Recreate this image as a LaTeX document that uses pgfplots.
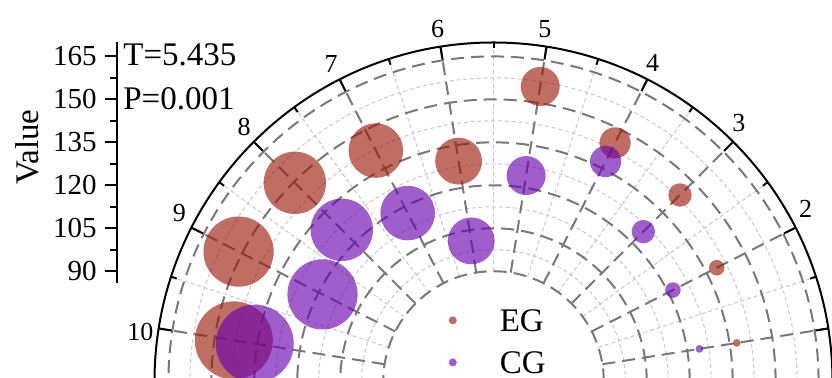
\documentclass[border=0pt]{standalone}
\usepackage{fontspec}
\setmainfont{Liberation Serif}
\usepackage{pgfplots}
\usepackage{pgfplotstable}
\pgfplotsset{compat=1.18}

\definecolor{egc}{RGB}{155,25,10}
\definecolor{cgc}{RGB}{105,0,176}
\definecolor{gridd}{RGB}{120,120,120}
\definecolor{gridl}{RGB}{200,200,200}

% k = category (drawn at angle 18k-9 degrees), v = value
\pgfplotstableread{
k v
1 137.5
2 139.0
3 143.6
4 145.0
5 155.8
6 129.4
7 142.0
8 149.6
9 151.4
10 143.3
}\egdata
\pgfplotstableread{
k v
1 124.3
2 121.8
3 125.5
4 137.7
5 124.3
6 101.2
7 117.5
8 126.4
9 118.5
10 135.9
}\cgdata

\newcommand\U{1.432}   % pt per value unit
\newcommand\VC{51.5}   % value at the pole

\begin{document}
\begin{tikzpicture}
% ---------- grid (under the bubbles) ----------
\begin{scope}[shift={(246.75pt,-1.75pt)}]
  \pgfmathsetmacro\rin{(90-\VC)*\U}
  \def\rout{169.5}
  \foreach \t in {0,18,...,180}
    \draw[gridl, line width=0.5pt, dash pattern=on 2pt off 1.4pt] (\t:\rin pt) -- (\t:\rout pt);
  \foreach \v in {97.5,112.5,127.5,142.5,157.5}{
    \pgfmathsetmacro\r{(\v-\VC)*\U}
    \draw[gridl, line width=0.5pt, dash pattern=on 2pt off 1.4pt] (\r pt,0) arc[start angle=0,end angle=180,radius=\r pt];
  }
  \foreach \t in {9,27,...,171}
    \draw[gridd, line width=1pt, dash pattern=on 6.5pt off 3.5pt] (\t:\rin pt) -- (\t:\rout pt);
  \foreach \v in {90,105,...,165}{
    \pgfmathsetmacro\r{(\v-\VC)*\U}
    \draw[gridd, line width=1pt, dash pattern=on 6.5pt off 3.5pt] (\r pt,0) arc[start angle=0,end angle=180,radius=\r pt];
  }
\end{scope}

% ---------- radial value axis (left) ----------
\begin{axis}[
  at={(58.5pt,47.5pt)}, anchor=south west,
  x=1pt, y=\U pt,
  xmin=0, xmax=1, ymin=85.89, ymax=170.04,
  axis x line=none, axis y line*=left,
  clip=false,
  ytick={90,105,...,165},
  minor y tick num=1,
  tick align=outside,
  major tick length=6pt, minor tick length=3.5pt,
  every tick/.append style={black, line width=1pt},
  y axis line style={black, line width=1pt},
  /pgf/number format/assume math mode=true,
  yticklabel style={font=\fontsize{14.5}{16}\selectfont, inner sep=0pt, xshift=-4pt},
  ylabel={Value},
  every axis y label/.style={at={(axis description cs:0,0.564)}, xshift=-45pt, rotate=90,
    anchor=center, inner sep=0pt, font=\fontsize{16.5}{18}\selectfont},
]
\end{axis}

% ---------- bubbles ----------
\begin{axis}[
  at={(60.59pt,-4.614pt)}, anchor=south west,
  x=\U pt, y=\U pt,
  xmin=-130, xmax=130, ymin=-2, ymax=130,
  hide axis, clip=false,
  legend cell align=left,
  legend image code/.code={\path[fill=none, draw=none] (-2pt,-2pt) rectangle (23.5pt,2pt); \fill[#1, draw opacity=0] (0pt,0pt) circle[radius=2pt];},
  legend style={draw=none, fill=none, inner sep=0pt, row sep=10pt,
    at={(axis cs:-15.89,25.31)}, anchor=north west,
    font=\fontsize{16.5}{18}\selectfont,
    nodes={inner sep=0pt, text height=11pt, text depth=0pt}},
]
\addplot[scatter, only marks, mark=*, forget plot,
  point meta=\thisrow{k},
  scatter/use mapped color={draw=egc, fill=egc},
  mark options={draw opacity=0, fill opacity=0.63},
  visualization depends on={1.95*\thisrow{k} \as \ms},
  scatter/@pre marker code/.append style={/tikz/mark size=\ms pt}]
  table[x expr={(\thisrow{v}-\VC)*cos(18*\thisrow{k}-9)},
        y expr={(\thisrow{v}-\VC)*sin(18*\thisrow{k}-9)}]{\egdata};
\addplot[scatter, only marks, mark=*, forget plot,
  point meta=\thisrow{k},
  scatter/use mapped color={draw=cgc, fill=cgc},
  mark options={draw opacity=0, fill opacity=0.63},
  visualization depends on={1.95*\thisrow{k} \as \ms},
  scatter/@pre marker code/.append style={/tikz/mark size=\ms pt}]
  table[x expr={(\thisrow{v}-\VC)*cos(18*\thisrow{k}-9)},
        y expr={(\thisrow{v}-\VC)*sin(18*\thisrow{k}-9)}]{\cgdata};
\addlegendimage{fill=egc, fill opacity=0.63}
\addlegendentry{EG}
\addlegendimage{fill=cgc, fill opacity=0.63}
\addlegendentry{CG}
\end{axis}

% ---------- angular axis ----------
\begin{scope}[shift={(246.75pt,-1.75pt)}]
  \draw[black, line width=1pt] (169.5pt,0) arc[start angle=0,end angle=180,radius=169.5pt];
  \foreach \t in {9,27,...,171} \draw[black, line width=1pt] (\t:169.5pt) -- (\t:163pt);
  \foreach \t in {0,18,...,180} \draw[black, line width=1pt] (\t:169.5pt) -- (\t:166.5pt);
  \foreach \n/\t in {2/28.9,3/46.5,4/63.5,5/81.7,6/99,7/117.1,8/134.4,9/151.8,10/172}
    \node[font=\fontsize{13}{15}\selectfont, inner sep=0pt] at (\t:178.25pt) {\n};
\end{scope}

\node[anchor=base west, inner sep=0pt, font=\fontsize{16.5}{18}\selectfont] at (61.5pt,156pt) {T=5.435};
\node[anchor=base west, inner sep=0pt, font=\fontsize{16.5}{18}\selectfont] at (61.5pt,134pt) {P=0.001};

\pgfresetboundingbox
\useasboundingbox (0,0) rectangle (416pt,189pt);
\end{tikzpicture}
\end{document}
